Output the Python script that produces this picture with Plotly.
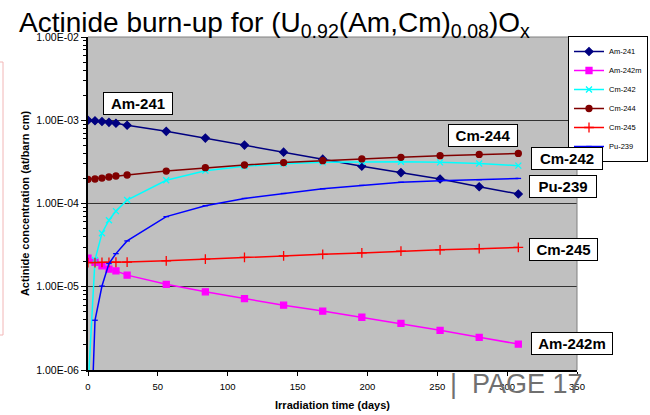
import plotly.graph_objects as go

# ---- data ----
days = [0, 5, 10, 15, 20, 28, 56, 84, 112, 140, 168, 196, 224, 252, 280, 308]
am241 = [1.0e-3, 9.85e-4, 9.65e-4, 9.44e-4, 9.2e-4, 8.7e-4, 7.36e-4, 6.1e-4, 5.03e-4, 4.14e-4,
         3.41e-4, 2.81e-4, 2.35e-4, 1.97e-4, 1.59e-4, 1.30e-4]
am242m = [2.2e-5, 1.97e-5, 1.78e-5, 1.63e-5, 1.55e-5, 1.38e-5, 1.07e-5, 8.7e-6, 7.2e-6, 6.0e-6,
          5.1e-6, 4.3e-6, 3.63e-6, 3.0e-6, 2.47e-6, 2.05e-6]
cm242 = [6e-7, 2.1e-5, 4.4e-5, 6.3e-5, 8.1e-5, 1.1e-4, 1.9e-4, 2.48e-4, 2.8e-4, 3.0e-4,
         3.12e-4, 3.18e-4, 3.18e-4, 3.12e-4, 3.02e-4, 2.85e-4]
cm244 = [1.95e-4, 1.97e-4, 2.02e-4, 2.08e-4, 2.14e-4, 2.2e-4, 2.45e-4, 2.69e-4, 2.9e-4, 3.1e-4,
         3.27e-4, 3.43e-4, 3.59e-4, 3.75e-4, 3.89e-4, 4.0e-4]
cm245 = [1.95e-5, 1.95e-5, 1.96e-5, 1.96e-5, 1.97e-5, 1.98e-5, 2.05e-5, 2.15e-5, 2.25e-5, 2.35e-5,
         2.45e-5, 2.55e-5, 2.68e-5, 2.78e-5, 2.87e-5, 2.97e-5]
pu239 = [1.5e-8, 3.96e-6, 1.02e-5, 1.9e-5, 2.5e-5, 3.55e-5, 6.95e-5, 9.4e-5, 1.15e-4, 1.32e-4,
         1.5e-4, 1.65e-4, 1.8e-4, 1.88e-4, 1.93e-4, 2.0e-4]

y_tickvals = [1e-6, 1e-5, 1e-4, 1e-3, 1e-2]
y_ticktext = ["1.00E-06", "1.00E-05", "1.00E-04", "1.00E-03", "1.00E-02"]
x_tickvals = [0, 50, 100, 150, 200, 250, 300, 350]

FONT = "Arial, Liberation Sans, sans-serif"

series = [
    ("Am-241", am241, "#000080", "diamond", 6),
    ("Am-242m", am242m, "#FF00FF", "square", 6),
    ("Cm-242", cm242, "#00FFFF", "x-thin-open", 6),
    ("Cm-244", cm244, "#800000", "circle", 6),
    ("Cm-245", cm245, "#FF0000", "cross-thin-open", 7),
    ("Pu-239", pu239, "#0000FF", "line-ew-open", 4),
]

fig = go.Figure()
for name, vals, col, sym, size in series:
    fig.add_trace(go.Scatter(
        x=days, y=vals, name=name, mode="lines+markers",
        line=dict(color=col, width=1.5),
        marker=dict(symbol=sym, size=size, color=col, line=dict(color=col, width=1.3)),
    ))

# geometry helpers (pixel -> paper)
L, R, T, B = 88, 577, 37, 370
def px(x):
    return (x - L) / (R - L)
def py(y):
    return (B - y) / (B - T)

labels = [
    ("Am-241", 138, 103.5, 68),
    ("Cm-244", 483, 135.7, 68),
    ("Cm-242", 567, 158.7, 70),
    ("Pu-239", 562.5, 186.7, 66),
    ("Cm-245", 563.5, 249.7, 67),
    ("Am-242m", 571.5, 343, 80),
]
for txt, cx, cy, w in labels:
    fig.add_annotation(
        x=px(cx), y=py(cy), xref="paper", yref="paper", text="<b>%s</b>" % txt,
        showarrow=False, font=dict(family=FONT, size=15, color="black"),
        bgcolor="white", bordercolor="black", borderwidth=1, borderpad=0,
        width=w, height=21, xanchor="center", yanchor="middle",
    )

# title
fig.add_annotation(
    x=px(17), y=py(25), xref="paper", yref="paper",
    text="Actinide burn-up for (U<sub>0.92</sub>(Am,Cm)<sub>0.08</sub>)O<sub>x</sub>",
    showarrow=False, font=dict(family=FONT, size=28, color="black"),
    xanchor="left", yanchor="middle",
)

# watermark
fig.add_annotation(
    x=px(448), y=py(384), xref="paper", yref="paper", text="|  PAGE 17",
    showarrow=False, font=dict(family=FONT, size=27, color="#707070"),
    xanchor="left", yanchor="middle",
)

# plot border top/right
fig.add_shape(type="line", xref="paper", yref="paper", x0=0, x1=1, y0=1, y1=1,
              line=dict(color="#808080", width=1))
fig.add_shape(type="line", xref="paper", yref="paper", x0=1, x1=1, y0=0, y1=1,
              line=dict(color="#808080", width=1))
# faint pink frame at the far left
fig.add_shape(type="rect", xref="paper", yref="paper",
              x0=px(-5), x1=px(3), y0=py(335), y1=py(62),
              line=dict(color="#F2B6B6", width=1))

fig.update_layout(
    width=650, height=415,
    margin=dict(l=L, r=650 - R, t=T, b=415 - B, autoexpand=False),
    paper_bgcolor="white", plot_bgcolor="#C0C0C0",
    font=dict(family=FONT, color="black"),
    showlegend=True,
    legend=dict(
        x=px(648), y=py(36), xanchor="right", yanchor="top",
        bgcolor="white", bordercolor="black", borderwidth=1,
        font=dict(family=FONT, size=7.5), itemwidth=30, tracegroupgap=0,
    ),
)
fig.update_xaxes(
    range=[0, 350], tickvals=x_tickvals, ticks="outside", ticklen=4, tickcolor="black",
    showline=True, linecolor="black", linewidth=2, showgrid=False, zeroline=False,
    tickfont=dict(family=FONT, size=9.5), ticklabelstandoff=3,
    title=dict(text="<b>Irradiation time (days)</b>", font=dict(family=FONT, size=11), standoff=10),
)
fig.update_yaxes(
    type="log", range=[-6, -2], tickmode="array", tickvals=y_tickvals, ticktext=y_ticktext,
    ticks="outside", ticklen=5, tickcolor="black",
    minor=dict(ticks="outside", ticklen=3, tickcolor="black", dtick="D1", showgrid=False),
    showline=True, linecolor="black", linewidth=2,
    showgrid=True, gridcolor="#333333", gridwidth=1, zeroline=False,
    tickfont=dict(family=FONT, size=10.5),
    title=dict(text="<b>Actinide concentration (at/barn cm)</b>", font=dict(family=FONT, size=11), standoff=4),
)

fig.write_html("out.html")
